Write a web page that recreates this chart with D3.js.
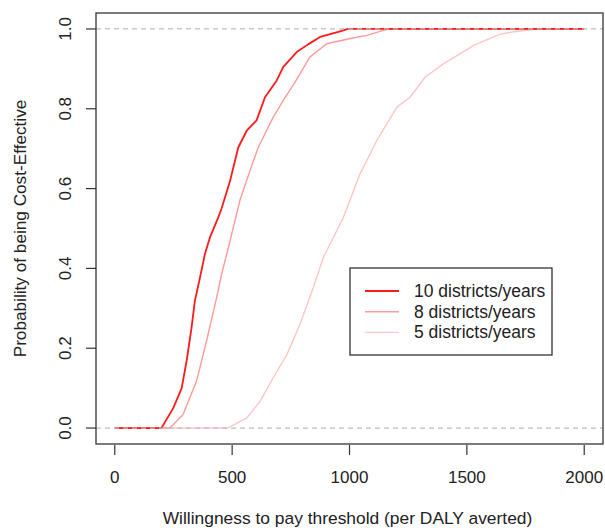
<!DOCTYPE html>
<html>
<head>
<meta charset="utf-8">
<script src="https://cdn.jsdelivr.net/npm/d3@7"></script>
<style>
  body { margin: 0; background: #fff; }
  text { font-family: "Liberation Sans", Arial, sans-serif; fill: #222; }
</style>
</head>
<body>
<svg></svg>
<script>
// willingness-to-pay thresholds and probability of being cost-effective, per scenario
const wtp10 = [0, 199, 249, 285, 306, 327, 341, 363, 384, 405, 441, 455, 491, 526, 562, 604, 640, 690, 718, 775, 825, 875, 960, 994, 2000];
const prob10 = [0, 0, 0.05, 0.10, 0.168, 0.251, 0.318, 0.377, 0.436, 0.477, 0.528, 0.55, 0.619, 0.703, 0.745, 0.771, 0.829, 0.871, 0.905, 0.942, 0.962, 0.98, 0.994, 1, 1];

const wtp8 = [0, 235, 291, 348, 391, 434, 455, 484, 512, 533, 576, 611, 675, 718, 768, 832, 903, 1003, 1074, 1130, 1166, 2000];
const prob8 = [0, 0, 0.034, 0.117, 0.218, 0.327, 0.385, 0.452, 0.519, 0.57, 0.645, 0.703, 0.779, 0.821, 0.867, 0.93, 0.963, 0.976, 0.984, 0.994, 1, 1];

const wtp5 = [0, 480, 562, 619, 675, 733, 789, 846, 888, 931, 974, 1045, 1116, 1202, 1258, 1322, 1401, 1472, 1529, 1614, 1643, 1700, 1800, 2000];
const prob5 = [0, 0, 0.025, 0.067, 0.126, 0.184, 0.26, 0.352, 0.427, 0.477, 0.528, 0.637, 0.72, 0.804, 0.829, 0.879, 0.913, 0.938, 0.959, 0.98, 0.987, 0.993, 1, 1];

const seriesNames = ["10 districts/years", "8 districts/years", "5 districts/years"];
const seriesColors = ["#ff1a1a", "#ff9a9a", "#ffc6c6"];
const xTicks = [0, 500, 1000, 1500, 2000];
const yTicks = [0, 0.2, 0.4, 0.6, 0.8, 1.0];

const series = [
  { name: seriesNames[0], color: seriesColors[0], values: wtp10.map((x, i) => ({ x, y: prob10[i] })) },
  { name: seriesNames[1], color: seriesColors[1], values: wtp8.map((x, i) => ({ x, y: prob8[i] })) },
  { name: seriesNames[2], color: seriesColors[2], values: wtp5.map((x, i) => ({ x, y: prob5[i] })) }
];

const W = 605, H = 530;
const margin = { top: 13, right: 2, bottom: 86, left: 96 };
const width = W - margin.left - margin.right;
const height = H - margin.top - margin.bottom;

const svg = d3.select("svg").attr("width", W).attr("height", H);
const g = svg.append("g").attr("transform", `translate(${margin.left},${margin.top})`);

// R-style 4% padding on both axes
const x = d3.scaleLinear().domain([-80, 2080]).range([0, width]);
const y = d3.scaleLinear().domain([-0.04, 1.04]).range([height, 0]);

const line = d3.line().x(d => x(d.x)).y(d => y(d.y));

g.selectAll(".curve").data(series.slice().reverse()).join("path")
  .attr("class", "curve")
  .attr("fill", "none")
  .attr("stroke", d => d.color)
  .attr("stroke-width", d => d.name === seriesNames[0] ? 1.8 : 1.4)
  .attr("stroke-linejoin", "round")
  .attr("d", d => line(d.values));

// dashed reference lines at 0 and 1, drawn over the curves
g.selectAll(".ref").data([0, 1]).join("line")
  .attr("class", "ref")
  .attr("x1", 0).attr("x2", width)
  .attr("y1", d => y(d)).attr("y2", d => y(d))
  .attr("stroke", "#bdbdbd")
  .attr("stroke-width", 1.2)
  .attr("stroke-dasharray", "5,4");

// box
g.append("rect")
  .attr("width", width).attr("height", height)
  .attr("fill", "none").attr("stroke", "#444").attr("stroke-width", 1.4);

// x axis
const xAxis = g.append("g").attr("transform", `translate(0,${height})`);
xAxis.selectAll("line").data(xTicks).join("line")
  .attr("x1", d => x(d)).attr("x2", d => x(d))
  .attr("y1", 1).attr("y2", 11)
  .attr("stroke", "#333").attr("stroke-width", 1.2);
xAxis.selectAll("text").data(xTicks).join("text")
  .attr("x", d => x(d)).attr("y", 39)
  .attr("text-anchor", "middle")
  .style("font-size", "17px")
  .text(d => d);

// y axis
const yAxis = g.append("g");
yAxis.selectAll("line").data(yTicks).join("line")
  .attr("x1", -10).attr("x2", 0)
  .attr("y1", d => y(d)).attr("y2", d => y(d))
  .attr("stroke", "#333").attr("stroke-width", 1.2);
yAxis.selectAll("text").data(yTicks).join("text")
  .attr("transform", d => `translate(-25,${y(d)}) rotate(-90)`)
  .attr("text-anchor", "middle")
  .style("font-size", "17px")
  .text(d => d3.format(".1f")(d));

svg.append("text")
  .attr("x", margin.left + width / 2 - 2).attr("y", 524)
  .attr("text-anchor", "middle")
  .style("font-size", "17.4px")
  .text("Willingness to pay threshold (per DALY averted)");

svg.append("text")
  .attr("transform", `translate(26,${margin.top + height / 2}) rotate(-90)`)
  .attr("text-anchor", "middle")
  .style("font-size", "17.2px")
  .text("Probability of being Cost-Effective");

// legend
const legend = svg.append("g").attr("transform", "translate(350,268)");
legend.append("rect")
  .attr("width", 202).attr("height", 87)
  .attr("fill", "#fff").attr("stroke", "#333").attr("stroke-width", 1.3);
const items = legend.selectAll(".item").data(series).join("g")
  .attr("class", "item")
  .attr("transform", (d, i) => `translate(0,${23 + i * 20.7})`);
items.append("line")
  .attr("x1", 15).attr("x2", 49)
  .attr("stroke", d => d.color)
  .attr("stroke-width", (d, i) => i === 0 ? 1.8 : 1.4);
items.append("text")
  .attr("x", 64).attr("y", 6)
  .style("font-size", "17.5px")
  .text(d => d.name);
</script>
</body>
</html>
